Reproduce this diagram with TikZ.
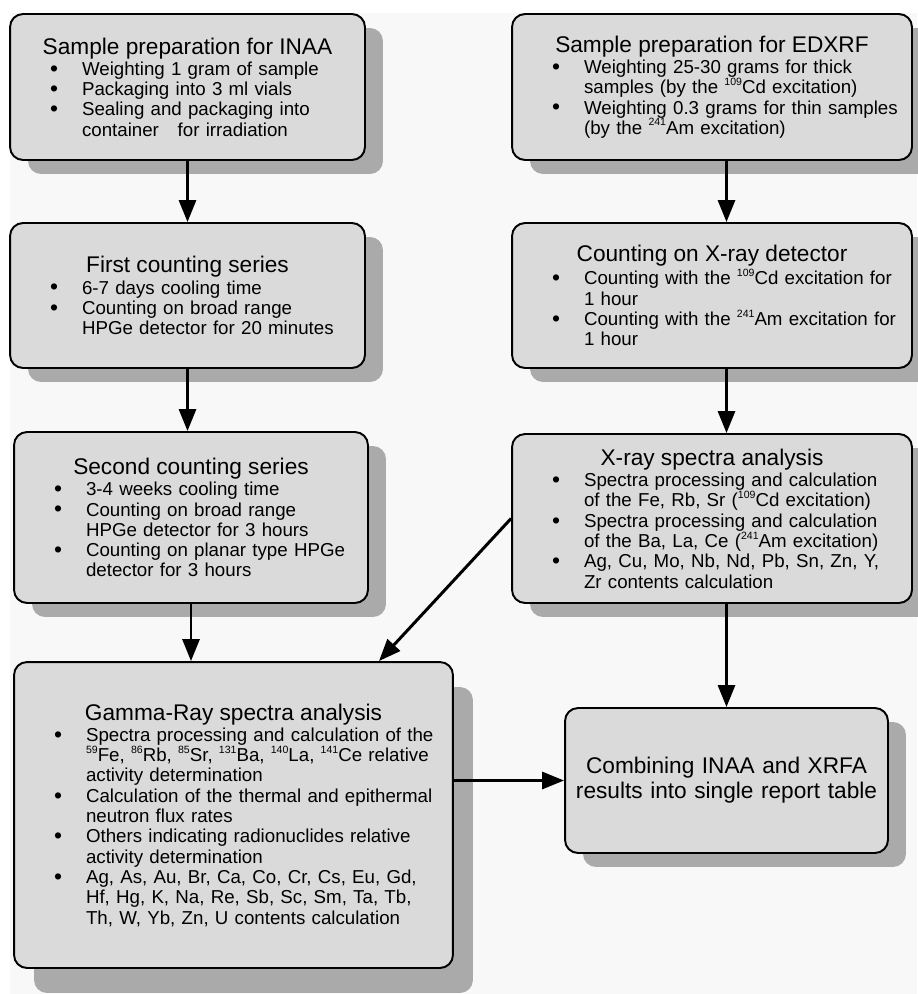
\documentclass[tikz,border=0pt]{standalone}
\usepackage{fontspec}
\setmainfont{Liberation Sans}
\usetikzlibrary{calc,shadows,arrows.meta}
\setlength{\parindent}{0pt}
\definecolor{fondgris}{HTML}{F8F8F8}
\definecolor{boitegris}{HTML}{DADADA}
\definecolor{ombregris}{HTML}{AAAAAA}
\newcommand{\titre}[1]{{\centering\fontsize{12.9}{14}\selectfont #1\par}\vspace{0.6pt}}
\newcommand{\puce}[1]{{\raggedright\leftskip=1.44cm\noindent\llap{\makebox[0.64cm][l]{\raisebox{-0.5pt}{\fontsize{13}{13}\selectfont\textbullet}}}#1\par}}
\newcommand{\iso}[1]{\raisebox{0.85ex}{\fontsize{6}{6}\selectfont #1}}
\tikzset{
    boite/.style={draw, line width=1.1pt, fill=boitegris, rounded corners=0.26cm,
      inner xsep=0pt, inner ysep=0pt, text width=#1, minimum width=#1,
      font=\fontsize{10.65}{11.55}\selectfont},
    ombrage/.style={drop shadow={shadow xshift=0.36cm, shadow yshift=-0.28cm, fill=ombregris, opacity=1}},
    grandombrage/.style={drop shadow={shadow xshift=0.4cm, shadow yshift=-0.5cm, fill=ombregris, opacity=1}},
    fleche/.style={line width=1.7pt, -{Triangle[length=0.44cm,width=0.34cm]}},
  }
\begin{document}
\begin{tikzpicture}[x=0.02cm,y=-0.02cm]
			  %FOND
			  \useasboundingbox (0,0) rectangle (917,994);
			  \fill[white] (0,0) rectangle (917,994);
			  \fill[fondgris] (10,13) rectangle (917,994);

			  %INAA
			  \node[boite=7.1cm, ombrage, minimum height=2.92cm] (prepI) at (187.5,87) {
			    \titre{Sample preparation for INAA}
			    \puce{Weighting 1 gram of sample}
			    \puce{Packaging into 3 ml vials}
			    \puce{Sealing and packaging into\\ container~~~for irradiation}};
			  \node[boite=7.1cm, ombrage, minimum height=2.9cm] (cnt1) at (187.5,295.5) {
			    \titre{First counting series}
			    \puce{6-7 days cooling time}
			    \puce{Counting on broad range\\ HPGe detector for 20 minutes}};
			  \node[boite=7.08cm, ombrage, minimum height=3.42cm] (cnt2) at (191,517.5) {
			    \titre{Second counting series}
			    \puce{3-4 weeks cooling time}
			    \puce{Counting on broad range\\ HPGe detector for 3 hours}
			    \puce{Counting on planar type HPGe\\ detector for 3 hours}};
			  \node[boite=8.78cm, grandombrage, minimum height=6.12cm] (gamma) at (233.5,815) {
			    \titre{Gamma-Ray spectra analysis}
			    \puce{Spectra processing and calculation of the\\ \iso{59}Fe, \iso{86}Rb, \iso{85}Sr, \iso{131}Ba, \iso{140}La, \iso{141}Ce relative\\ activity determination}
			    \puce{Calculation of the thermal and epithermal\\ neutron flux rates}
			    \puce{Others indicating radionuclides relative\\ activity determination}
			    \puce{Ag, As, Au, Br, Ca, Co, Cr, Cs, Eu, Gd,\\ Hf, Hg, K, Na, Re, Sb, Sc, Sm, Ta, Tb,\\ Th, W, Yb, Zn, U contents calculation}};

			  %EDXRF
			  \node[boite=8cm, ombrage, minimum height=2.92cm] (prepX) at (712,87) {
			    \titre{Sample preparation for EDXRF}
			    \puce{Weighting 25-30 grams for thick\\ samples (by the \iso{109}Cd excitation)}
			    \puce{Weighting 0.3 grams for thin samples\\ (by the \iso{241}Am excitation)}};
			  \node[boite=8cm, ombrage, minimum height=2.9cm] (cntX) at (712,295.5) {
			    \titre{Counting on X-ray detector}
			    \puce{Counting with the \iso{109}Cd excitation for\\ 1 hour}
			    \puce{Counting with the \iso{241}Am excitation for\\ 1 hour}};
			  \node[boite=8cm, ombrage, minimum height=3.38cm] (specX) at (712,518.5) {
			    \titre{X-ray spectra analysis}
			    \puce{Spectra processing and calculation\\ of the Fe, Rb, Sr (\iso{109}Cd excitation)}
			    \puce{Spectra processing and calculation\\ of the Ba, La, Ce (\iso{241}Am excitation)}
			    \puce{Ag, Cu, Mo, Nb, Nd, Pb, Sn, Zn, Y,\\ Zr contents calculation}};

			  %RESULTAT
			  \node[boite=6.46cm, ombrage, minimum height=2.9cm, align=center,
			        font=\fontsize{12.9}{14.2}\selectfont] (comb) at (726.5,780.5)
			        {Combining INAA and XRFA\\ results into single report table};

			  %FLECHES
			  \draw[fleche] (prepI) -- (cnt1);
			  \draw[fleche] (cnt1.south) -- (cnt1.south |- cnt2.north);
			  \draw[fleche] (cnt2.south) -- (cnt2.south |- gamma.north);
			  \draw[fleche] (prepX.south -| comb.north) -- (cntX.north -| comb.north);
			  \draw[fleche] (cntX.south -| comb.north) -- (specX.north -| comb.north);
			  \draw[fleche] (specX.south -| comb.north) -- (comb.north);
			  \draw[fleche] (specX.west) -- ($(gamma.north west)!0.83!(gamma.north east)$);
			  \draw[fleche] (gamma.east |- comb.west) -- (comb.west);
\end{tikzpicture}
\end{document}
